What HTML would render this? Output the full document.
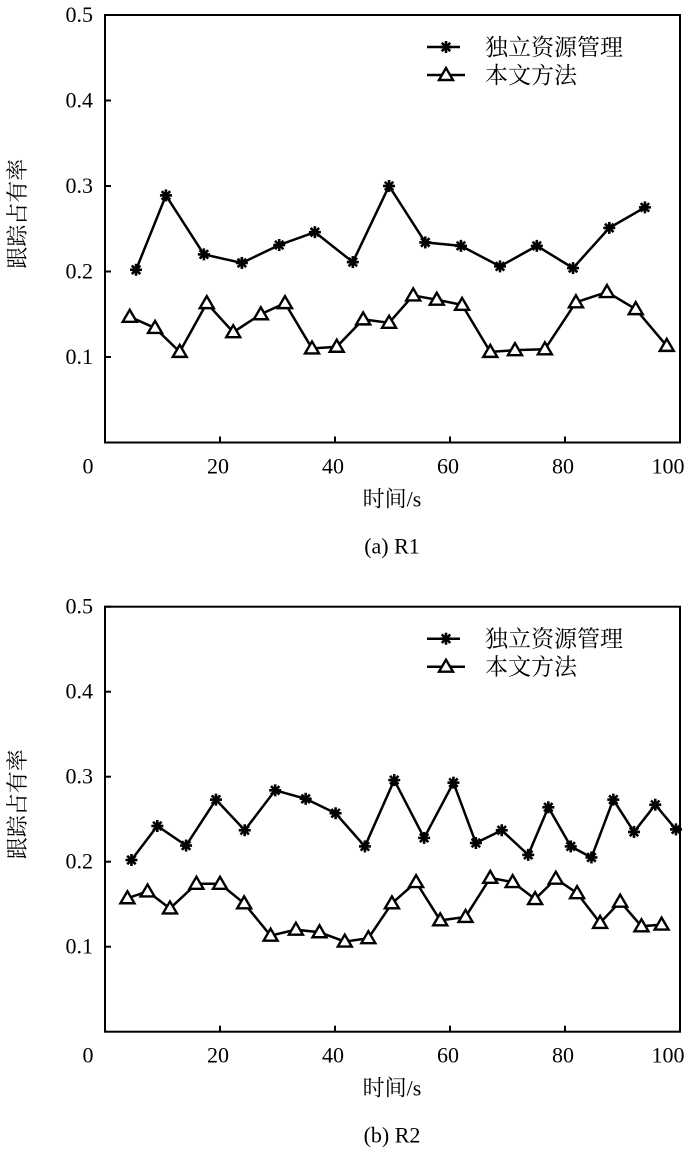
<!DOCTYPE html>
<html><head><meta charset="utf-8"><style>
html,body{margin:0;padding:0;background:#fff;}
svg text{font-family:"Liberation Serif","Noto Serif CJK SC",serif;fill:#000;}
</style></head><body>
<svg id="svg" width="700" height="1161" viewBox="0 0 700 1161" xmlns="http://www.w3.org/2000/svg"></svg>
<script>
const xTicks=[0,20,40,60,80,100];
const yTicks=[0.1,0.2,0.3,0.4,0.5];
const legendLabels=["独立资源管理","本文方法"];
const r1StarX=[5.4,10.6,17.2,23.8,30.3,36.5,43.1,49.4,55.7,61.9,68.7,75.1,81.4,87.7,93.9];
const r1StarY=[0.202,0.289,0.220,0.210,0.231,0.246,0.211,0.300,0.234,0.230,0.206,0.230,0.204,0.251,0.275];
const r1TriX=[4.3,8.7,13.0,17.7,22.3,27.1,31.3,36.0,40.3,44.9,49.4,53.6,57.7,62.1,67.0,71.3,76.5,81.9,87.3,92.3,97.7];
const r1TriY=[0.147,0.134,0.106,0.163,0.129,0.150,0.163,0.110,0.112,0.144,0.140,0.172,0.167,0.161,0.106,0.108,0.109,0.164,0.176,0.156,0.113];
const r2StarX=[4.6,9.1,14.1,19.3,24.3,29.6,34.9,40.1,45.2,50.3,55.5,60.6,64.5,69.0,73.6,77.1,81.0,84.6,88.4,92.0,95.7,99.3];
const r2StarY=[0.202,0.242,0.219,0.273,0.237,0.284,0.274,0.257,0.218,0.296,0.228,0.293,0.222,0.237,0.208,0.264,0.218,0.205,0.273,0.235,0.267,0.238];
const r2TriX=[3.9,7.4,11.3,15.9,20.0,24.2,28.8,33.2,37.3,41.7,45.8,49.9,54.1,58.3,62.7,67.0,70.9,74.8,78.4,82.1,86.1,89.6,93.3,96.8];
const r2TriY=[0.157,0.165,0.145,0.174,0.174,0.151,0.113,0.120,0.117,0.106,0.110,0.151,0.176,0.131,0.135,0.181,0.176,0.156,0.180,0.163,0.128,0.153,0.124,0.126];

const NS="http://www.w3.org/2000/svg";
const svg=document.getElementById('svg');
function mk(tag,attrs,parent){const e=document.createElementNS(NS,tag);for(const k in attrs)e.setAttribute(k,attrs[k]);(parent||svg).appendChild(e);return e;}
function star(g,x,y){
  const r=6;
  for(let i=0;i<4;i++){const a=i*Math.PI/4;
    const l=mk('line',{x1:x-r*Math.cos(a),y1:y-r*Math.sin(a),x2:x+r*Math.cos(a),y2:y+r*Math.sin(a),stroke:'#000','stroke-width':2.6},g);
    
    }
}
function tri(g,x,y){
  const p=mk('polygon',{points:`${x},${y-7} ${x-7},${y+5} ${x+7},${y+5}`,fill:'#fff',stroke:'#000','stroke-width':2.4},g);
  
  
}
function chart(id,top,bottom,caption,sx,sy,tx,ty){
  const L=105,R=680;
  const X=v=>L+(R-L)*v/100;
  const Y=v=>bottom-(bottom-top)*v/0.5;
  const g=mk('g',{});
  
  
  const box=mk('rect',{x:L,y:top,width:R-L,height:bottom-top,fill:'none',stroke:'#000','stroke-width':2},g);
  
  
  yTicks.forEach(t=>{
    const tk=mk('line',{x1:L,x2:L+6,y1:Y(t),y2:Y(t),stroke:'#000','stroke-width':2},g);
    
    
    const tl=mk('text',{x:93,y:Y(t)+7,'text-anchor':'end','font-size':22},g);
    tl.textContent=t.toFixed(1);
    
    
  });
  xTicks.forEach(t=>{
    if(t>0&&t<100){const tk=mk('line',{x1:X(t),x2:X(t),y1:bottom,y2:bottom-6,stroke:'#000','stroke-width':2},g);
      
      }
    const tl=mk('text',{x:t===0?88:(t===100?668:X(t)-2),y:bottom+31,'text-anchor':'middle','font-size':22},g);
    tl.textContent=String(t);
    
    
  });
  const yt=mk('text',{x:0,y:0,'text-anchor':'middle','font-size':22,transform:`translate(25,${(top+bottom)/2-15}) rotate(-90)`},g);
  yt.textContent='跟踪占有率';
  
  
  const xt=mk('text',{x:392,y:bottom+64,'text-anchor':'middle','font-size':22},g);
  xt.textContent='时间/s';
  
  
  const cp=mk('text',{x:392,y:bottom+111,'text-anchor':'middle','font-size':22},g);
  cp.textContent=caption;
  
  
  const s1=mk('polyline',{points:sx.map((v,i)=>X(v)+','+Y(sy[i])).join(' '),fill:'none',stroke:'#000','stroke-width':2.5},g);
  
  
  sx.forEach((v,i)=>star(g,X(v),Y(sy[i])));
  const s2=mk('polyline',{points:tx.map((v,i)=>X(v)+','+Y(ty[i])).join(' '),fill:'none',stroke:'#000','stroke-width':2.5},g);
  
  
  tx.forEach((v,i)=>tri(g,X(v),Y(ty[i])));
  const ly1=top+32, ly2=top+60;
  const l1=mk('line',{x1:427,x2:460,y1:ly1,y2:ly1,stroke:'#000','stroke-width':2.5},g);
  
  
  star(g,446,ly1);
  const l2=mk('line',{x1:427,x2:465,y1:ly2,y2:ly2,stroke:'#000','stroke-width':2.5},g);
  
  
  tri(g,446,ly2);
  legendLabels.forEach((s,i)=>{
    const t=mk('text',{x:485,y:(i?ly2:ly1)+8,'font-size':23},g);
    t.textContent=s;
    
    
  });
}
chart('chart-r1',15,442.5,'(a) R1',r1StarX,r1StarY,r1TriX,r1TriY);
chart('chart-r2',606.7,1031.7,'(b) R2',r2StarX,r2StarY,r2TriX,r2TriY);
</script>
</body></html>
